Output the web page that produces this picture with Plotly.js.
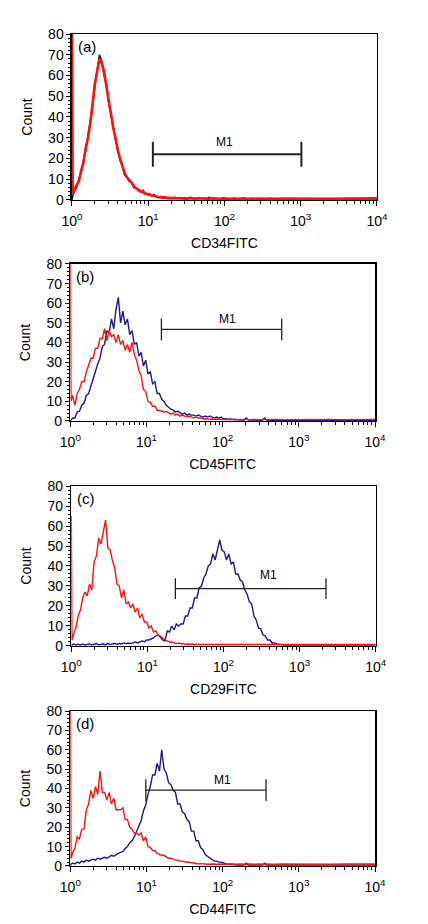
<!DOCTYPE html>
<html>
<head>
<meta charset="utf-8">
<script src="https://cdn.plot.ly/plotly-3.0.1.min.js"></script>
<style>html,body{margin:0;padding:0;background:#fff;}#chart{width:428px;height:924px;}</style>
</head>
<body>
<div id="chart"></div>
<script>
// fluorescence channel (intensity) grid, shared by all histograms
const channel = [1, 1.02, 1.072, 1.148, 1.230, 1.318, 1.413, 1.514, 1.622, 1.738,
 1.862, 1.995, 2.138, 2.291, 2.455, 2.630, 2.818, 3.020, 3.236, 3.467,
 3.715, 3.981, 4.266, 4.571, 4.898, 5.248, 5.623, 6.026, 6.457, 6.918,
 7.413, 7.943, 8.511, 9.120, 9.772, 10.47, 11.22, 12.02, 12.88, 13.80,
 14.79, 15.85, 16.98, 18.20, 19.50, 20.89, 22.39, 23.99, 25.70, 27.54,
 29.51, 31.62, 33.88, 36.31, 38.90, 41.69, 44.67, 47.86, 51.29, 54.95,
 58.88, 63.10, 67.61, 72.44, 77.62, 83.18, 89.13, 95.50, 102.3, 109.6,
 117.5, 125.9, 134.9, 144.5, 154.9, 166.0, 177.8, 190.5, 204.2, 218.8,
 234.4, 251.2, 269.2, 288.4, 309.0, 331.1, 354.8, 380.2, 407.4, 436.5,
 467.7, 501.2, 631, 1000, 1585, 2512, 3981, 6310, 10000];

// (a) CD34
const countA_red = [95, 3, 5, 7, 9, 14, 18, 25, 30, 37,
 47, 56, 62, 68, 66, 62, 55, 48, 41, 35,
 30, 24, 20, 16, 13, 11, 9.5, 8, 6.5, 5.5,
 5, 4, 4.5, 3, 3, 2.5, 2, 2, 1.5, 1.2,
 1.5, 1, 1.2, 0.8, 1, 0.8, 1, 0.7, 0.9, 0.7,
 0.8, 0.6, 0.9, 0.7, 0.8, 0.6, 0.8, 0.7, 0.6, 0.8,
 0.7, 0.6, 0.8, 0.6, 0.7, 0.6, 0.7, 0.6, 0.7, 0.6,
 0.7, 0.6, 0.7, 0.6, 0.7, 0.6, 0.7, 0.6, 0.7, 0.6,
 0.7, 0.6, 0.7, 0.6, 0.7, 0.6, 0.7, 0.6, 0.7, 0.6,
 0.7, 0.6, 0.7, 0.6, 0.7, 0.6, 0.7, 0.6, 0.8];
const countA_stain = [0, 2, 4, 6, 10, 13, 19, 24, 31, 38,
 45, 55, 63, 70, 67, 60, 57, 47, 42, 36,
 29, 25, 19, 17, 12, 11, 9, 8.5, 6, 6,
 4.5, 4.5, 3.5, 3.5, 2.5, 3, 2, 2.5, 1.5, 1.5,
 1, 1.5, 1, 1.2, 0.8, 1, 1.2, 0.8, 1, 0.6,
 1, 0.8, 0.6, 1.2, 0.6, 0.8, 0.6, 1, 0.6, 0.8,
 0.6, 1.2, 0.6, 0.5, 0.8, 0.6, 0.5, 1, 0.6, 0.5,
 0.6, 0.5, 0.8, 0.5, 0.6, 0.5, 1, 0.5, 0.6, 0.5,
 0.5, 0.6, 0.5, 0.5, 0.6, 0.5, 0.5, 0.6, 0.5, 0.5,
 0.5, 0.5, 0.5, 0.5, 0.5, 0.5, 0.5, 0.5, 0.5];

// (b) CD45
const countB_red = [95, 10, 13, 8, 14, 16, 20, 20, 25, 28,
 32, 32, 37, 37, 42, 42, 47, 41, 46, 43,
 44, 40, 44, 39, 41, 36, 39, 35, 40, 34,
 31, 26, 23, 16, 15, 10, 9.5, 7.5, 7.5, 5.5,
 5.5, 5, 4.5, 5, 4, 3.5, 4, 3, 3.5, 2.5,
 3, 2.5, 2, 2.5, 2, 1.5, 2, 1.5, 1.5, 1.2,
 1, 1.2, 0.8, 1, 0.8, 1, 0.8, 0.9, 0.7, 0.8,
 0.7, 0.8, 0.7, 0.8, 0.7, 0.8, 0.7, 0.8, 0.7, 0.8,
 0.7, 0.8, 0.7, 0.8, 0.7, 0.8, 0.7, 0.8, 0.7, 0.8,
 0.7, 0.8, 0.7, 0.8, 0.7, 0.8, 0.7, 0.8, 0.8];
const countB_stain = [0, 0.5, 1.5, 1.5, 4.5, 5, 8, 9, 13, 14,
 18, 22, 25, 29, 32, 38, 39, 46, 45, 52,
 47, 57, 63, 50, 56, 49, 52, 44, 46, 39,
 40, 33, 35, 28, 31, 24, 25, 19, 20, 14,
 14, 11, 10, 8, 7, 6, 5.5, 4.5, 5, 4,
 3.5, 4, 3, 3.5, 3, 3, 2.5, 3, 2.5, 2,
 2.5, 2, 2.5, 2, 1.5, 2, 1.5, 2, 1, 1.2,
 0.8, 1, 0.8, 0.6, 0.8, 0.5, 0.6, 0.5, 1.5, 0.5,
 0.5, 0.4, 0.5, 0.4, 0.5, 0.4, 1.5, 0.4, 0.5, 0.4,
 0.5, 0.4, 0.4, 0.4, 0.4, 0.4, 0.4, 0.4, 0.4];

// (c) CD29
const countC_red = [65, 3, 6, 9, 15, 18, 24, 27, 25, 31,
 28, 42, 45, 54, 51, 58, 63, 49, 48, 43,
 39, 31, 30, 24, 28, 21, 22, 19, 21, 17,
 19, 14, 16, 12, 12, 9, 10, 7, 7.5, 5.5,
 5, 4, 3, 2.5, 2, 2, 1.5, 1.2, 1.5, 1,
 1.2, 0.8, 1, 0.8, 1, 0.7, 0.9, 0.7, 0.8, 0.7,
 0.8, 0.7, 0.8, 0.7, 0.8, 0.7, 0.8, 0.7, 0.8, 0.7,
 0.8, 0.7, 0.8, 0.7, 0.8, 0.7, 0.8, 0.7, 0.8, 0.7,
 0.8, 0.7, 0.8, 0.7, 0.8, 0.7, 0.8, 0.7, 0.8, 0.7,
 0.8, 0.7, 0.8, 0.7, 0.8, 0.7, 0.8, 0.7, 0.8];
const countC_stain = [0.5, 0.5, 1, 0.5, 0.8, 0.5, 1, 0.5, 0.8, 1,
 0.5, 0.8, 1.2, 0.6, 0.8, 1, 0.6, 1.2, 0.8, 1,
 1.2, 0.8, 1.2, 1, 1.5, 1.2, 1.5, 1.2, 1.5, 2,
 1.5, 2, 2.5, 2, 3, 3, 3.5, 4, 5, 5.5,
 4.5, 3, 2.5, 7.5, 7, 10, 8, 11, 10, 11,
 11, 15, 15, 19, 19, 24, 24, 29, 30, 34,
 36, 40, 41, 46, 43, 49, 53, 48, 47, 43,
 46, 41, 42, 36, 36, 33, 32, 28, 26, 22,
 21, 15, 13, 9, 8.5, 5.5, 5, 3, 3, 1.5,
 1.5, 1, 0.5, 0.5, 0.5, 0.5, 0.5, 0.5, 0.5];

// (d) CD44
const countD_red = [95, 4, 7, 9, 15, 14, 19, 19, 29, 32,
 39, 35, 41, 37, 49, 38, 38, 34, 38, 32,
 35, 29, 29, 29, 30, 24, 24, 20, 19, 17,
 17, 16, 17, 13, 15, 10, 9.5, 8, 8, 6.5,
 6, 5.5, 5.5, 4.5, 4, 4, 3.5, 3, 3, 2.5,
 2.5, 2, 2.2, 2, 1.5, 1.5, 1.2, 1, 1.2, 0.9,
 1, 0.9, 1, 0.9, 1, 0.9, 1, 0.9, 1, 0.9,
 1, 0.9, 1, 0.9, 1, 0.9, 1, 0.9, 1, 0.9,
 1, 0.9, 1, 0.9, 1, 0.9, 1, 0.9, 1, 0.9,
 1, 0.9, 1, 0.9, 1, 0.9, 1, 0.9, 1];
const countD_stain = [0, 1, 1.5, 1, 2, 1.5, 2.5, 2, 3, 2.5,
 3, 3.5, 3, 4, 3.5, 4, 4.5, 4, 5, 5.5,
 5, 6, 6.5, 7, 7.5, 9, 10, 12, 13, 15,
 18, 21.5, 23.5, 28.5, 31.5, 37, 41, 47, 47, 53,
 49, 60, 50, 48, 43, 42, 39, 38, 32, 32,
 28, 27, 24, 23, 18, 18, 13, 13, 9.5, 8.5,
 6, 5, 4, 3, 2.5, 2.5, 2, 2, 1.5, 1.2,
 1, 0.8, 0.6, 0.5, 0.5, 0.5, 0.5, 0.5, 1.5, 0.5,
 0.5, 0.5, 0.5, 0.5, 0.5, 0.5, 1.5, 0.5, 0.5, 0.5,
 0.5, 0.5, 0.5, 0.5, 0.5, 0.5, 0.5, 0.5, 0.5];

const panelLabels = ['(a)', '(b)', '(c)', '(d)'];
const markerNames = ['CD34FITC', 'CD45FITC', 'CD29FITC', 'CD44FITC'];
const gateName = 'M1';
const gateLo = [11.5, 15.7, 23.3, 9.8];
const gateHi = [1020, 596, 2220, 371];
const gateY = [22, 46.7, 28.7, 39.2];
const gateCap = [6, 5.5, 5.2, 5.6];
const gateLabelX = [101, 117, 396, 98];
const gateLabelY = [28, 52, 35.5, 44.4];
const xTickVals = [1, 10, 100, 1000, 10000];
const xTickText = ['10<sup>0</sup>', '10<sup>1</sup>', '10<sup>2</sup>', '10<sup>3</sup>', '10<sup>4</sup>'];
const yTickVals = [0, 10, 20, 30, 40, 50, 60, 70, 80];
const yTitle = 'Count';

const stainSeries = [countA_stain, countB_stain, countC_stain, countD_stain];
const redSeries = [countA_red, countB_red, countC_red, countD_red];

const xDomains = [[0.1682, 0.8808], [0.1643, 0.8762], [0.1666, 0.8778], [0.1643, 0.8762]];
const yDomains = [[0.7836, 0.9632], [0.5444, 0.7143], [0.3009, 0.4740], [0.0628, 0.2305]];
const stainColors = ['#141428', '#1a1a86', '#1a1a86', '#1a1a86'];
const FONT = 'Liberation Sans, Arial, Helvetica, sans-serif';

const minorVals = [];
[1, 10, 100, 1000].forEach(d => { for (let m = 2; m <= 9; m++) minorVals.push(m * d); });

const traces = [];
const annotations = [];
const layout = {
  width: 428, height: 924,
  margin: {l: 0, r: 0, t: 0, b: 0},
  paper_bgcolor: '#fff', plot_bgcolor: '#fff',
  showlegend: false, hovermode: false,
  font: {family: FONT, color: '#000', size: 14}
};

for (let i = 0; i < 4; i++) {
  const s = i === 0 ? '' : String(i + 1);
  const xa = 'x' + s, ya = 'y' + s;
  traces.push({x: channel, y: stainSeries[i], xaxis: xa, yaxis: ya, type: 'scatter', mode: 'lines',
    line: {color: stainColors[i], width: i === 0 ? 1.6 : 1.4}});
  traces.push({x: channel, y: redSeries[i], xaxis: xa, yaxis: ya, type: 'scatter', mode: 'lines',
    line: {color: '#ff1010', width: i === 0 ? 2.6 : 1.4}});
  const lo = gateLo[i], hi = gateHi[i], gy = gateY[i], c = gateCap[i];
  traces.push({x: [lo, lo, null, lo, hi, null, hi, hi],
    y: [gy - c, gy + c, null, gy, gy, null, gy - c, gy + c],
    xaxis: xa, yaxis: ya, type: 'scatter', mode: 'lines',
    line: {color: '#222', width: i === 0 ? 2 : 1.3}});
  annotations.push({xref: xa, yref: ya, x: Math.log10(gateLabelX[i]), y: gateLabelY[i], text: gateName,
    showarrow: false, font: {family: FONT, size: 12, color: '#000'}, xanchor: 'center', yanchor: 'middle'});
  annotations.push({xref: xa + ' domain', yref: ya + ' domain', x: 0.012, y: 0.99, text: panelLabels[i],
    showarrow: false, font: {family: FONT, size: 15, color: '#000'}, xanchor: 'left', yanchor: 'top'});

  layout['xaxis' + s] = {
    domain: xDomains[i], anchor: ya, type: 'log', range: [0, 4],
    tickmode: 'array', tickvals: xTickVals, ticktext: xTickText,
    ticks: 'outside', ticklen: 5, tickwidth: 1, tickcolor: '#000', ticklabelstandoff: 3,
    minor: {tickmode: 'array', tickvals: minorVals, ticks: 'outside', ticklen: 3, tickcolor: '#000', showgrid: false},
    showline: true, linecolor: '#000', linewidth: 1.5, mirror: true,
    showgrid: false, zeroline: false,
    tickfont: {family: FONT, size: 14, color: '#000'},
    title: {text: markerNames[i], font: {family: FONT, size: 14, color: '#000'}, standoff: 10}
  };
  layout['yaxis' + s] = {
    domain: yDomains[i], anchor: xa, range: [0, 80],
    tickmode: 'array', tickvals: yTickVals,
    ticks: 'outside', ticklen: 4, tickwidth: 1, tickcolor: '#000',
    minor: {dtick: 2, ticks: 'outside', ticklen: 2, tickcolor: '#000', showgrid: false},
    showline: true, linecolor: '#000', linewidth: 1.5, mirror: true,
    showgrid: false, zeroline: false,
    tickfont: {family: FONT, size: 14, color: '#000'},
    title: {text: yTitle, font: {family: FONT, size: 14, color: '#000'}, standoff: 12}
  };
}
layout.annotations = annotations;

Plotly.newPlot('chart', traces, layout, {staticPlot: true, displayModeBar: false});
</script>
</body>
</html>
